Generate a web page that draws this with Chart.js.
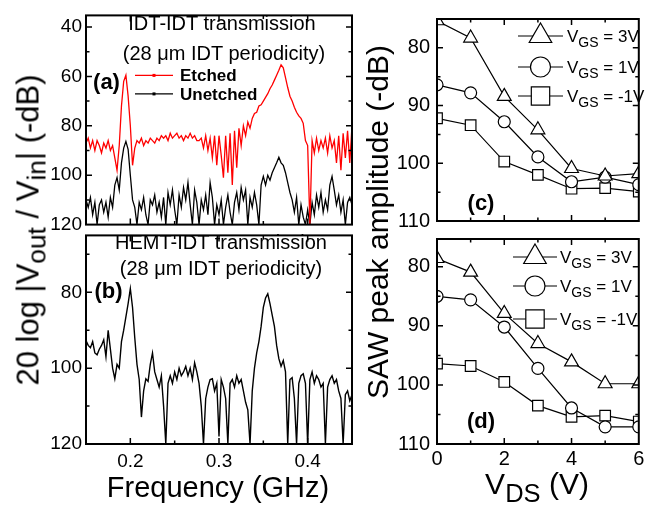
<!DOCTYPE html>
<html><head><meta charset="utf-8">
<script src="https://cdn.jsdelivr.net/npm/chart.js@4/dist/chart.umd.min.js"></script>
<style>
html,body{margin:0;padding:0;background:#fff;}
#wrap{position:relative;width:648px;height:507px;overflow:hidden;font-family:"Liberation Sans",Arial,sans-serif;color:#000;background:#fff;}
canvas{position:absolute;}
.t{position:absolute;white-space:nowrap;line-height:1;transform:translate(-50%,-50%);}
.r{position:absolute;white-space:nowrap;line-height:1;transform:translate(-50%,-50%) rotate(-90deg);}
.s{position:relative;font-size:0.85em;top:0.28em;}
</style></head><body>
<div id="wrap">
<canvas id="cA" width="360" height="240" style="left:0;top:0"></canvas>
<canvas id="cB" width="360" height="287" style="left:0;top:220px"></canvas>
<canvas id="cC" width="292" height="240" style="left:356px;top:0"></canvas>
<canvas id="cD" width="292" height="287" style="left:356px;top:220px"></canvas>

<div class="t" style="left:222px;top:22.5px;font-size:20px">IDT-IDT transmission</div>
<div class="t" style="left:224px;top:52.5px;font-size:20px">(28 μm IDT periodicity)</div>
<div class="t" style="left:221px;top:241.5px;font-size:20px">HEMT-IDT transmission</div>
<div class="t" style="left:221px;top:268px;font-size:20px">(28 μm IDT periodicity)</div>
<div class="t" style="left:106.5px;top:82px;font-size:22px;font-weight:bold">(a)</div>
<div class="t" style="left:108.5px;top:291px;font-size:22px;font-weight:bold">(b)</div>
<div class="t" style="left:481px;top:203px;font-size:22px;font-weight:bold">(c)</div>
<div class="t" style="left:481px;top:421px;font-size:22px;font-weight:bold">(d)</div>
<div class="r" style="left:28px;top:230px;font-size:31px">20 log |V<span class="s">out</span> / V<span class="s">in</span>| (-dB)</div>
<div class="r" style="left:378px;top:222px;font-size:30px">SAW peak amplitude (-dB)</div>
<div class="t" style="left:218px;top:487px;font-size:29px">Frequency (GHz)</div>
<div class="t" style="left:537px;top:484px;font-size:30px">V<span class="s" style="top:0.3em">DS</span> (V)</div>
</div>
<script>
// ---------- data ----------
const freqStartGHz = 0.15, freqStepGHz = 0.0025;
const etchedDB = [87,85,89,86,90,86,88,91,87,89, 86,90,88,93,98,88,72,62,59.5,68, 80,96,89,86,87,85,88,86,87,85, 86,87,85,86,84,85,84,86,83,85, 84,83,85,84,86,84,85,83,85,84, 86,86,85,89,84,90,85,93,84,96, 84,92,101,84,99,83,104,82,97,81, 88,80,84,78.5,81,77,75,74.5,72,71.5, 70,68.5,67,65,63.5,61.5,59.5,57.5,55.3,56.5, 60.5,64.5,68,70,72.5,74.5,76,77,79,86, 88,120,86,91,85,90,86,89,85,91, 84,89,86,95,84,98,83,93,82,95, 80];
const unetchedDB = [110,113,109,116,111,120,112,110,115,111, 117,109,113,104,101,106,95,89,86.3,89.5, 100,110,113,120,111,114,109,116,120,110, 112,108,115,111,117,109,120,107,112,106, 114,120,108,113,105,110,103,112,120,106, 111,120,110,114,108,116,103,109,120,112, 116,110,120,113,108,115,120,111,107,114, 105,110,106,120,109,113,107,112,120,104, 100.5,104,100,102,99,97,95,92.7,95,96, 99,103,107,110,115,109,120,112,117,120, 114,120,111,116,108,113,107,115,110,114, 104,100.5,106,112,108,115,110,120,111,109, 112];
const hemtDB = [92.7,94,94.6,93,96,96.5,95,94,92.5,97, 90,95,100,102.8,99,100,93,90,86.5,83, 79,84,92,99,103,112.9,106,102.8,103.5,99, 96,101,103,105,102,110,120,104,102,104, 101,103,100,102,101,99.5,102,100,103,98.6, 101,104,110,120,108,105,103,102.8,106,104, 118,103,105,108,120,104,103,105,102,104, 103,106,109,111,120,106,100,96,93,89, 84,81.5,80.4,83,86,89,94,97.5,99.5,98, 101,120,103,102.5,108,120,104,102,101.5,104, 120,103,101,104,102,103,105,104,120,105, 103,102,104,103,106,108,120,107,106,108.6, 107];
const freqGHz = etchedDB.map((_, i) => +(freqStartGHz + i * freqStepGHz).toFixed(4));

const vdsV = [0, 1, 2, 3, 4, 5, 6];
const cVgs3 = [75.3, 78.3, 88.4, 94.2, 100.9, 102.2, 101.8];
const cVgs1 = [86.4, 87.8, 92.8, 98.9, 103.2, 102.4, 103.7];
const cVgsM1 = [92.2, 93.4, 99.7, 102.0, 104.4, 104.3, 104.9];
const dVgs3 = [78.6, 80.9, 87.9, 93.0, 96.1, 99.8, 99.8];
const dVgs1 = [85.0, 85.6, 90.2, 97.2, 103.9, 107.1, 107.1];
const dVgsM1 = [96.4, 96.8, 99.5, 103.5, 105.4, 105.2, 106.2];
const seriesNames = ['VGS = 3V', 'VGS = 1V', 'VGS = -1V'];
const spectrumNames = ['Etched', 'Unetched'];

const freqTicks = [0.2, 0.3, 0.4];
const dbTicksA = [40, 60, 80, 100, 120];
const dbTicksB = [80, 100, 120];
const ampTicks = [80, 90, 100, 110];
const vdsTicks = [0, 2, 4, 6];

// ---------- helpers ----------
const FONT = '"Liberation Sans", Arial, sans-serif';
Chart.defaults.font.family = FONT;
Chart.defaults.color = '#000';
Chart.defaults.animation = false;

const framePlugin = {
  id: 'frame',
  afterDatasetsDraw(chart, args, o) {
    const ctx = chart.ctx, a = chart.chartArea, x = chart.scales.x, y = chart.scales.y;
    const steps = (min, max, step) => { const out = []; const k0 = Math.ceil(min / step - 1e-6), k1 = Math.floor(max / step + 1e-6); for (let k = k0; k <= k1; k++) out.push(+(k * step).toFixed(6)); return out; };
    const isMajor = (arr, v) => arr.some(m => Math.abs(m - v) < 1e-6);
    ctx.save();
    ctx.strokeStyle = '#000'; ctx.lineWidth = 1.5;
    ctx.beginPath();
    steps(x.min, x.max, o.xStep).forEach(v => {
      const p = x.getPixelForValue(v);
      if (p < a.left + 1 || p > a.right - 1) return;
      const L = isMajor(o.xMajor, v) ? o.major : o.minor;
      ctx.moveTo(p, a.bottom); ctx.lineTo(p, a.bottom - L);
      ctx.moveTo(p, a.top); ctx.lineTo(p, a.top + L);
    });
    steps(y.min, y.max, o.yStep).forEach(v => {
      const p = y.getPixelForValue(v);
      if (p < a.top + 1 || p > a.bottom - 1) return;
      const L = isMajor(o.yMajor, v) ? o.major : o.minor;
      ctx.moveTo(a.left, p); ctx.lineTo(a.left + L, p);
      ctx.moveTo(a.right, p); ctx.lineTo(a.right - L, p);
    });
    ctx.stroke();
    ctx.lineWidth = 2;
    ctx.strokeRect(a.left, a.top, a.right - a.left, a.bottom - a.top);
    ctx.restore();
  }
};

const specLegend = {
  id: 'specLegend',
  afterDraw(chart, args, o) {
    if (!o.on) return;
    const ctx = chart.ctx, a = chart.chartArea;
    chart.data.datasets.forEach((ds, i) => {
      const y = a.top + o.rows[i], x0 = a.left + o.x0, x1 = a.left + o.x1, xm = (x0 + x1) / 2;
      ctx.save();
      ctx.strokeStyle = ds.borderColor; ctx.fillStyle = ds.borderColor; ctx.lineWidth = 1.3;
      ctx.beginPath(); ctx.moveTo(x0, y); ctx.lineTo(x1, y); ctx.stroke();
      ctx.fillRect(xm - 1.5, y - 1.5, 3, 3);
      ctx.fillStyle = '#000';
      ctx.font = 'bold 17px ' + FONT; ctx.textBaseline = 'alphabetic';
      ctx.fillText(ds.label, a.left + o.tx, y + 6);
      ctx.restore();
    });
  }
};

const vgsLegend = {
  id: 'vgsLegend',
  afterDraw(chart, args, o) {
    if (!o.on) return;
    const ctx = chart.ctx, a = chart.chartArea;
    chart.data.datasets.forEach((ds, i) => {
      const y = a.top + o.rows[i], x0 = a.left + o.x0, x1 = a.left + o.x1, xm = (x0 + x1) / 2;
      ctx.save();
      ctx.strokeStyle = '#000'; ctx.lineWidth = 1.2;
      ctx.beginPath(); ctx.moveTo(x0, y); ctx.lineTo(x1, y); ctx.stroke();
      ctx.fillStyle = '#fff';
      Chart.helpers.drawPoint(ctx, { pointStyle: ds.pointStyle, radius: o.radii[i], borderWidth: 1.2, rotation: 0 }, xm, y);
      ctx.fillStyle = '#000'; ctx.textBaseline = 'alphabetic';
      let tx = a.left + o.tx;
      const lab = ds.label;
      ctx.font = '17px ' + FONT; ctx.fillText(lab[0], tx, y + 6); tx += ctx.measureText(lab[0]).width;
      ctx.font = '14px ' + FONT; ctx.fillText(lab.slice(1, 3), tx, y + 11); tx += ctx.measureText(lab.slice(1, 3)).width;
      ctx.font = '17px ' + FONT; ctx.fillText(lab.slice(3), tx, y + 6);
      ctx.restore();
    });
  }
};

function scales(c) {
  return {
    x: {
      type: 'linear', min: c.xMin, max: c.xMax, display: c.xShow,
      grid: { display: false, drawTicks: false }, border: { display: false },
      afterBuildTicks: s => { s.ticks = c.xTicks.map(v => ({ value: v })); },
      afterFit: s => { if (c.xShow) s.height = c.xHeight; },
      ticks: { font: { size: c.tick }, padding: c.xPad, maxRotation: 0, autoSkip: false, callback: v => String(v) }
    },
    y: {
      type: 'linear', reverse: true, min: c.yMin, max: c.yMax,
      grid: { display: false, drawTicks: false }, border: { display: false },
      afterBuildTicks: s => { s.ticks = c.yTicks.map(v => ({ value: v })); },
      afterFit: s => { s.width = c.yWidth; },
      ticks: { font: { size: c.tick }, padding: c.yPad, autoSkip: false, callback: v => String(v) }
    }
  };
}

function opts(c, frame, pl) {
  return {
    responsive: false, animation: false, devicePixelRatio: 1,
    layout: { padding: c.pad },
    scales: scales(c),
    elements: { line: { tension: 0 } },
    plugins: Object.assign({ legend: { display: false }, tooltip: { enabled: false }, frame: frame }, pl || {})
  };
}

const xy = (xs, ys) => xs.map((v, i) => ({ x: v, y: ys[i] }));

// ---------- (a) ----------
new Chart(document.getElementById('cA'), {
  type: 'line',
  data: { datasets: [
    { label: spectrumNames[0], data: xy(freqGHz, etchedDB), borderColor: '#ff0000', borderWidth: 1.3, pointRadius: 0 },
    { label: spectrumNames[1], data: xy(freqGHz, unetchedDB), borderColor: '#000000', borderWidth: 1.3, pointRadius: 0 }
  ] },
  options: opts({ xMin: 0.15, xMax: 0.45, yMin: 35.3, yMax: 120, xTicks: freqTicks, yTicks: dbTicksA, xShow: false, yWidth: 86, tick: 19, yPad: 4, xPad: 6, pad: { top: 12, right: 8, bottom: 12, left: 0 } },
    { xStep: 0.05, yStep: 10, xMajor: freqTicks, yMajor: dbTicksA, major: 6, minor: 3.5 },
    { specLegend: { on: true, rows: [60, 78.5], x0: 49, x1: 87, tx: 94 } }),
  plugins: [framePlugin, specLegend]
});

// ---------- (b) ----------
new Chart(document.getElementById('cB'), {
  type: 'line',
  data: { datasets: [
    { label: 'HEMT-IDT', data: xy(freqGHz, hemtDB), borderColor: '#000000', borderWidth: 1.4, pointRadius: 0 }
  ] },
  options: opts({ xMin: 0.15, xMax: 0.45, yMin: 65, yMax: 120, xTicks: freqTicks, yTicks: dbTicksB, xShow: true, xHeight: 63, yWidth: 86, tick: 19, yPad: 4, xPad: 6, pad: { top: 8, right: 8, bottom: 0, left: 0 } },
    { xStep: 0.05, yStep: 10, xMajor: freqTicks, yMajor: dbTicksB, major: 6, minor: 3.5 }),
  plugins: [framePlugin]
});

// ---------- (c) & (d) ----------
function vgsSets(a, b, c) {
  const base = { borderColor: '#000', borderWidth: 1.2, pointBackgroundColor: '#fff', pointBorderColor: '#000', pointBorderWidth: 1.2 };
  return [
    Object.assign({ label: seriesNames[0], data: xy(vdsV, a), pointStyle: 'triangle', pointRadius: 8 }, base),
    Object.assign({ label: seriesNames[1], data: xy(vdsV, b), pointStyle: 'circle', pointRadius: 6 }, base),
    Object.assign({ label: seriesNames[2], data: xy(vdsV, c), pointStyle: 'rect', pointRadius: 7.5 }, base)
  ];
}

new Chart(document.getElementById('cC'), {
  type: 'line',
  data: { datasets: vgsSets(cVgs3, cVgs1, cVgsM1) },
  options: opts({ xMin: 0, xMax: 6, yMin: 75, yMax: 110, xTicks: vdsTicks, yTicks: ampTicks, xShow: false, yWidth: 81, tick: 20, yPad: 7, xPad: 3, pad: { top: 12, right: 2, bottom: 12, left: 0 } },
    { xStep: 1, yStep: 5, xMajor: vdsTicks, yMajor: ampTicks, major: 6, minor: 3.5 },
    { vgsLegend: { on: true, rows: [17, 48, 77], x0: 81, x1: 126, tx: 130, radii: [13, 10, 13] } }),
  plugins: [framePlugin, vgsLegend]
});

new Chart(document.getElementById('cD'), {
  type: 'line',
  data: { datasets: vgsSets(dVgs3, dVgs1, dVgsM1) },
  options: opts({ xMin: 0, xMax: 6, yMin: 75.3, yMax: 110, xTicks: vdsTicks, yTicks: ampTicks, xShow: true, xHeight: 63, yWidth: 81, tick: 20, yPad: 7, xPad: 3, pad: { top: 8, right: 2, bottom: 0, left: 0 } },
    { xStep: 1, yStep: 5, xMajor: vdsTicks, yMajor: ampTicks, major: 6, minor: 3.5 },
    { vgsLegend: { on: true, rows: [18, 47, 80], x0: 76, x1: 120, tx: 123, radii: [13, 10, 13] } }),
  plugins: [framePlugin, vgsLegend]
});
</script>
</body></html>
